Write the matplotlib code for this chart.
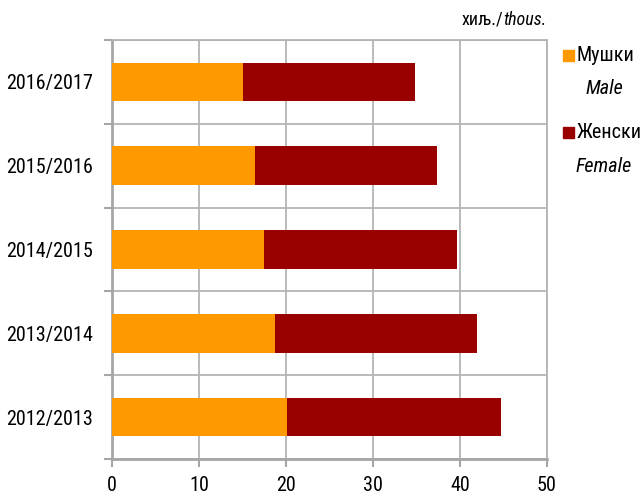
import matplotlib
matplotlib.use("Agg")
import matplotlib.pyplot as plt
from matplotlib import font_manager
from matplotlib.patches import Rectangle
import numpy as np

years = ["2016/2017", "2015/2016", "2014/2015", "2013/2014", "2012/2013"]
male = [15.1, 16.4, 17.5, 18.7, 20.1]
female = [19.7, 21.0, 22.2, 23.3, 24.6]
x_ticks = [0, 10, 20, 30, 40, 50]

names = {f.name for f in font_manager.fontManager.ttflist}
fam = next((n for n in ["Liberation Sans Narrow", "Roboto Condensed", "PT Sans Narrow", "Liberation Sans"] if n in names), "DejaVu Sans")
plt.rcParams["font.family"] = [fam, "DejaVu Sans"]

W, H = 641, 494
fig = plt.figure(figsize=(W / 100, H / 100), dpi=100)
ax = fig.add_axes([112 / W, (H - 459) / H, (547 - 112) / W, (459 - 40) / H])

c_male = "#FF9900"
c_female = "#990000"
grid_c = "#B4B4B4"
axis_c = "#A6A6A6"
FS = 14.5

ypos = np.arange(len(years))
bh = 0.46
ax.barh(ypos, male, height=bh, color=c_male, zorder=3)
ax.barh(ypos, female, left=male, height=bh, color=c_female, zorder=3)

ax.set_xlim(0, 50)
ax.set_ylim(len(years) - 0.5, -0.5)
ax.set_xticks(x_ticks)
ax.set_xticklabels([str(t) for t in x_ticks], fontsize=FS)
ax.set_yticks(ypos)
ax.set_yticklabels(years, fontsize=FS)
ax.set_yticks(np.arange(-0.5, len(years)), minor=True)

ax.tick_params(axis="y", which="major", length=0, pad=14)
ax.tick_params(axis="y", which="minor", length=6, width=1.5, color=axis_c, direction="out")
ax.tick_params(axis="x", which="major", length=6, width=1.5, color=axis_c, direction="out", pad=6)

ax.grid(axis="x", which="major", color=grid_c, linewidth=1.3, zorder=1)
ax.grid(axis="y", which="minor", color=grid_c, linewidth=1.3, zorder=1)
ax.grid(axis="y", which="major", visible=False)

for s in ["left", "bottom"]:
    ax.spines[s].set_color(axis_c)
    ax.spines[s].set_linewidth(2)
for s in ["top", "right"]:
    ax.spines[s].set_color(grid_c)
    ax.spines[s].set_linewidth(1.3)

# unit label
t1 = fig.text(462 / W, 1 - 20 / H, "хиљ./", fontsize=13, ha="left", va="center")
fig.canvas.draw()
bb = t1.get_window_extent()
fig.text(bb.x1 / W, 1 - 20 / H, "thous.", fontsize=13, style="italic", ha="left", va="center")

# legend
def legend_item(color, y_sq, label, sub, y_sub):
    fig.patches.append(Rectangle((563 / W, 1 - (y_sq + 11) / H), 11 / W, 11 / H,
                                 transform=fig.transFigure, color=color))
    fig.text(577 / W, 1 - (y_sq + 5.5) / H, label, fontsize=FS, ha="left", va="center")
    fig.text(604 / W, 1 - y_sub / H, sub, fontsize=FS, style="italic", ha="center", va="center")

legend_item(c_male, 50, "Мушки", "Male", 89)
legend_item(c_female, 127, "Женски", "Female", 166)

fig.savefig("out.png", dpi=100)
